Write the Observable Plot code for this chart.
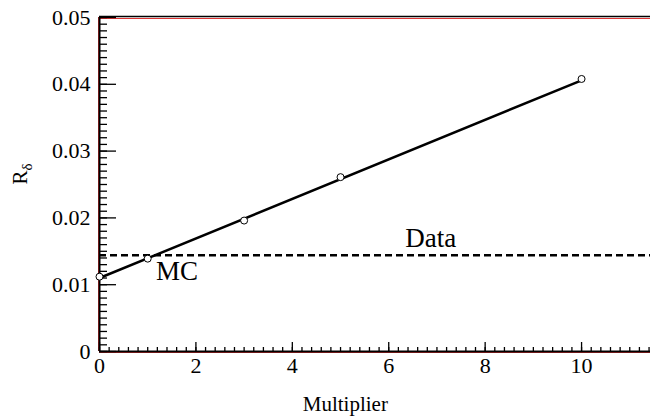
<!DOCTYPE html>
<html><head><meta charset="utf-8">
<script src="https://cdn.jsdelivr.net/npm/d3@7"></script>
<script src="https://cdn.jsdelivr.net/npm/@observablehq/plot@0.6"></script>
<style>body{margin:0;background:#fff}</style></head>
<body><div id="chart"></div>
<script>
const multipliers = [0, 1, 3, 5, 10];
const rDelta = [0.0112, 0.0139, 0.0196, 0.0261, 0.0408];
const fitX = [0, 10];
const fitY = [0.0110, 0.0406];
const dataLevel = [0.0144];
const xTicks = [0, 2, 4, 6, 8, 10];
const xTickLabels = ["0", "2", "4", "6", "8", "10"];
const yTicks = [0, 0.01, 0.02, 0.03, 0.04, 0.05];
const yTickLabels = ["0", "0.01", "0.02", "0.03", "0.04", "0.05"];
const annLabels = ["Data", "MC"];
const annX = [6.87, 1.61];
const annY = [0.0170, 0.0120];
const xTitle = "Multiplier";

const xMinor = d3.range(0, 11.45, 0.2);
const yMinor = d3.range(0, 0.0505, 0.001);

const font = "Liberation Serif";
const W = 650, H = 417, ML = 99, MR = 0, MT = 17, MB = 66;
const fw = W - ML - MR, fh = H - MT - MB;

const chart = Plot.plot({
  width: W, height: H,
  marginLeft: ML, marginRight: MR, marginTop: MT, marginBottom: MB,
  style: {fontFamily: font, fontSize: "22px", background: "#fff", color: "#000"},
  x: {domain: [0, 11.43], axis: null},
  y: {domain: [0, 0.05], axis: null},
  marks: [
    Plot.ruleY([0.05], {stroke: "#d33", strokeWidth: 1, dy: 1}),
    Plot.ruleY([0.05], {stroke: "#000", strokeWidth: 1.5, dy: -1}),
    Plot.ruleX([0], {stroke: "#d33", strokeWidth: 1, dx: -1}),
    Plot.ruleY([0], {stroke: "#d33", strokeWidth: 1, dy: 1}),
    // inward ticks
    Plot.tickX(xMinor, {x: d => d, insetTop: fh - 4, stroke: "#000", strokeWidth: 1.3}),
    Plot.tickX(xTicks, {x: d => d, insetTop: fh - 9, stroke: "#000", strokeWidth: 1.3}),
    Plot.tickY(yMinor, {y: d => d, insetRight: fw - 8, stroke: "#000", strokeWidth: 1.3}),
    Plot.tickY(yTicks, {y: d => d, insetRight: fw - 17, stroke: "#000", strokeWidth: 1.3}),
    // tick labels
    Plot.text(xTicks, {x: d => d, frameAnchor: "bottom", dy: 21, text: (d, i) => xTickLabels[i], fontSize: 22, fontFamily: font}),
    Plot.text(yTicks, {y: d => d, frameAnchor: "left", dx: -9, textAnchor: "end", text: (d, i) => yTickLabels[i], fontSize: 22, fontFamily: font}),
    Plot.ruleX([0], {stroke: "#000", strokeWidth: 2}),
    Plot.ruleY([0], {stroke: "#000", strokeWidth: 2}),
    Plot.ruleY(dataLevel, {stroke: "#000", strokeWidth: 2.5, strokeDasharray: "7,4"}),
    Plot.line(fitX.map((x, i) => ({x, y: fitY[i]})), {x: "x", y: "y", stroke: "#000", strokeWidth: 2.5}),
    Plot.dot(multipliers.map((x, i) => ({x, y: rDelta[i]})), {x: "x", y: "y", r: 3.5, stroke: "#000", fill: "#fff", strokeWidth: 1}),
    Plot.text(annLabels, {x: (d, i) => annX[i], y: (d, i) => annY[i], text: d => d, fontSize: 27, fontFamily: font, textAnchor: "middle"}),
    Plot.text([xTitle], {x: [5.1], y: [0], text: d => d, dy: 53, fontSize: 21, fontFamily: font}),
    Plot.text(["Rδ"], {frameAnchor: "left", dx: -79, rotate: -90, fontSize: 21, fontFamily: font, text: d => d})
  ]
});
document.getElementById("chart").appendChild(chart);

d3.select(chart).selectAll("text").style("font-family", font);

d3.select(chart).selectAll("text").each(function() {
  if (this.textContent === "Rδ") {
    const t = d3.select(this);
    t.text("").append("tspan").text("R");
    t.append("tspan").attr("dy", "0.3em").attr("font-size", "15px").text("δ");
  }
});
</script></body></html>
